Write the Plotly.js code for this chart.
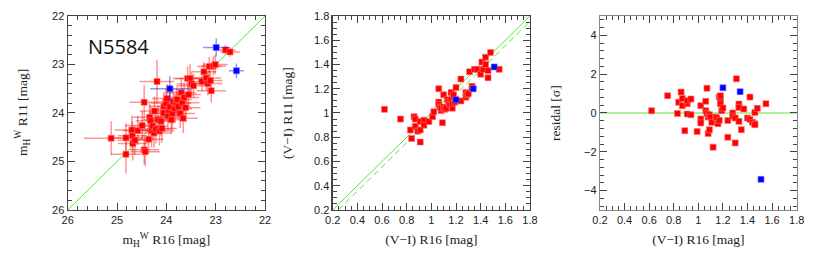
<!DOCTYPE html>
<html>
<head>
<meta charset="utf-8">
<script src="https://cdn.plot.ly/plotly-3.0.1.min.js"></script>
<style>
  html, body { margin: 0; padding: 0; background: #fff; }
  #plot { width: 817px; height: 262px; }
</style>
</head>
<body>
<div id="plot"></div>
<script>
// panel 1: m_H^W, R16 vs R11
var m16 = [25.12, 24.82, 24.82, 24.70, 24.69, 24.68, 24.64, 24.58, 24.49, 24.45, 24.45, 24.43, 24.36, 24.34, 24.32, 24.30, 24.28, 24.25, 24.24, 24.21, 24.19, 24.17, 24.14, 24.11, 24.09, 24.06, 24.05, 24.01, 23.99, 23.97, 23.95, 23.93, 23.90, 23.88, 23.86, 23.83, 23.80, 23.78, 23.76, 23.72, 23.70, 23.68, 23.66, 23.64, 23.61, 23.57, 23.55, 23.52, 23.49, 23.45, 23.28, 23.24, 23.19, 23.16, 23.13, 23.11, 23.09, 23.05, 23.01, 22.80, 22.71];
var m11 = [24.52, 24.85, 24.51, 24.35, 24.47, 24.63, 24.56, 24.36, 24.26, 23.78, 24.76, 24.80, 24.54, 24.09, 24.16, 24.36, 24.27, 24.41, 23.96, 24.33, 23.35, 24.14, 24.37, 24.17, 24.32, 24.00, 23.86, 23.80, 23.70, 24.06, 23.94, 23.87, 24.14, 24.01, 23.77, 23.91, 23.80, 23.72, 23.87, 24.01, 23.58, 23.79, 24.11, 23.68, 23.89, 23.29, 23.62, 23.29, 23.40, 23.44, 23.35, 23.15, 23.28, 23.39, 23.04, 23.33, 23.54, 23.03, 23.00, 22.70, 22.74];
var m16err = [0.55, 0.3, 0.35, 0.35, 0.3, 0.3, 0.35, 0.3, 0.35, 0.3, 0.3, 0.3, 0.3, 0.35, 0.3, 0.3, 0.3, 0.35, 0.3, 0.35, 0.35, 0.3, 0.3, 0.3, 0.3, 0.3, 0.3, 0.3, 0.3, 0.25, 0.3, 0.25, 0.3, 0.3, 0.3, 0.35, 0.3, 0.3, 0.25, 0.3, 0.3, 0.35, 0.3, 0.3, 0.3, 0.3, 0.25, 0.3, 0.3, 0.3, 0.25, 0.25, 0.3, 0.3, 0.25, 0.25, 0.3, 0.25, 0.25, 0.2, 0.2];
var m11err = [0.35, 0.4, 0.3, 0.3, 0.3, 0.35, 0.3, 0.3, 0.3, 0.35, 0.3, 0.3, 0.3, 0.3, 0.3, 0.35, 0.3, 0.3, 0.3, 0.3, 0.45, 0.3, 0.3, 0.3, 0.3, 0.3, 0.3, 0.3, 0.3, 0.3, 0.25, 0.3, 0.3, 0.3, 0.3, 0.3, 0.3, 0.3, 0.25, 0.3, 0.3, 0.3, 0.3, 0.3, 0.3, 0.25, 0.25, 0.3, 0.25, 0.25, 0.2, 0.2, 0.25, 0.25, 0.2, 0.2, 0.25, 0.2, 0.2, 0.1, 0.1];
var m16blue = [22.99, 22.58, 23.93];
var m11blue = [22.65, 23.13, 23.50];
var m16blueErr = [0.27, 0.15, 0.4];
var m11blueErr = [0.19, 0.15, 0.26];

// panel 2: (V-I) colours
var vi16 = [0.62, 0.75, 0.83, 0.84, 0.86, 0.87, 0.87, 0.89, 0.91, 0.91, 0.91, 0.94, 0.94, 0.98, 1.01, 1.02, 1.06, 1.06, 1.06, 1.07, 1.08, 1.08, 1.09, 1.10, 1.10, 1.11, 1.12, 1.13, 1.14, 1.15, 1.16, 1.16, 1.17, 1.17, 1.18, 1.19, 1.20, 1.24, 1.24, 1.28, 1.28, 1.29, 1.30, 1.31, 1.33, 1.33, 1.35, 1.37, 1.40, 1.41, 1.42, 1.44, 1.44, 1.46, 1.46, 1.48, 1.55];
var vi11 = [1.03, 0.95, 0.86, 0.79, 0.97, 0.95, 0.89, 0.85, 0.93, 0.86, 0.76, 0.94, 0.90, 0.93, 0.97, 1.01, 1.20, 1.09, 1.07, 1.05, 1.02, 1.04, 0.92, 1.15, 1.05, 1.03, 1.04, 1.11, 1.09, 1.07, 1.17, 1.11, 1.04, 1.08, 1.15, 1.09, 1.21, 1.10, 1.28, 1.17, 1.13, 1.15, 1.16, 1.34, 1.22, 1.20, 1.36, 1.36, 1.32, 1.42, 1.36, 1.46, 1.40, 1.35, 1.29, 1.50, 1.36];
var vi16blue = [1.20, 1.34, 1.51];
var vi11blue = [1.11, 1.20, 1.38];

// panel 3: residuals
var resX = [0.62, 0.75, 0.83, 0.84, 0.86, 0.87, 0.87, 0.89, 0.91, 0.91, 0.91, 0.94, 0.94, 0.99, 1.02, 1.02, 1.02, 1.06, 1.06, 1.07, 1.07, 1.08, 1.08, 1.09, 1.09, 1.10, 1.11, 1.12, 1.14, 1.15, 1.16, 1.17, 1.17, 1.18, 1.18, 1.18, 1.19, 1.20, 1.24, 1.24, 1.28, 1.28, 1.30, 1.30, 1.31, 1.33, 1.33, 1.33, 1.35, 1.37, 1.40, 1.42, 1.42, 1.44, 1.46, 1.46, 1.46, 1.48, 1.55];
var resY = [0.12, 0.89, -0.03, 0.55, 1.08, 0.75, 0.38, -0.91, 0.48, 0.63, -0.05, 0.72, -0.09, -0.96, 0.38, -0.31, -0.51, 0.12, 0.60, 1.28, -0.03, -0.21, -1.06, -0.86, -0.09, -0.21, -0.48, -1.76, -0.21, -0.26, -0.55, -0.38, 0.82, 0.68, 0.89, 0.48, 0.12, 0.26, -1.25, -0.39, 0.0, -0.17, -1.54, -0.26, 1.76, 0.46, 0.29, -0.43, -0.86, 0.21, -0.26, 0.82, -0.34, -0.48, -0.56, -0.60, 0.03, 0.24, 0.48];
var resXblue = [1.20, 1.34, 1.51];
var resYblue = [1.30, 1.10, -3.42];

// reference lines
var diagMag = [26, 22];
var diagCol = [0.2, 1.8];
var offsetColX = [0.245, 1.8];
var offsetColY = [0.2, 1.755];
var zeroX = [0.2, 1.8];
var zeroY = [0, 0];

var RED = '#ff0000', BLUE = '#0000ff', GREEN = '#5ce63c';
var redMarker = {symbol: 'square', size: 6, color: RED, line: {width: 0.6, color: '#ff7070'}};
var blueMarker = {symbol: 'square', size: 6, color: BLUE, line: {width: 0.6, color: '#7070ff'}};

function errs(arr, col) {
    return {type: 'data', array: arr, visible: true, color: col, thickness: 1.5, width: 0};
}

var data = [
    {x: diagMag, y: diagMag, mode: 'lines', line: {color: GREEN, width: 1}, xaxis: 'x', yaxis: 'y'},
    {x: m16, y: m11, mode: 'markers', marker: redMarker,
     error_x: errs(m16err, 'rgba(255,0,0,0.42)'), error_y: errs(m11err, 'rgba(255,0,0,0.42)'),
     xaxis: 'x', yaxis: 'y'},
    {x: m16blue, y: m11blue, mode: 'markers', marker: blueMarker,
     error_x: errs(m16blueErr, 'rgba(0,0,255,0.42)'), error_y: errs(m11blueErr, 'rgba(0,0,255,0.42)'),
     xaxis: 'x', yaxis: 'y'},

    {x: diagCol, y: diagCol, mode: 'lines', line: {color: GREEN, width: 1}, xaxis: 'x2', yaxis: 'y2'},
    {x: offsetColX, y: offsetColY, mode: 'lines', line: {color: GREEN, width: 1, dash: '6px,4px'}, xaxis: 'x2', yaxis: 'y2'},
    {x: vi16, y: vi11, mode: 'markers', marker: redMarker, xaxis: 'x2', yaxis: 'y2'},
    {x: vi16blue, y: vi11blue, mode: 'markers', marker: blueMarker, xaxis: 'x2', yaxis: 'y2'},

    {x: zeroX, y: zeroY, mode: 'lines', line: {color: GREEN, width: 1}, xaxis: 'x3', yaxis: 'y3'},
    {x: resX, y: resY, mode: 'markers', marker: redMarker, xaxis: 'x3', yaxis: 'y3'},
    {x: resXblue, y: resYblue, mode: 'markers', marker: blueMarker, xaxis: 'x3', yaxis: 'y3'}
];

var tickFont = {family: 'Liberation Sans, Arial, sans-serif', size: 11, color: '#222'};
var titleFont = {family: 'Liberation Serif, Times New Roman, serif', size: 13.5, color: '#222'};

function axis(range, dtick, minor, dom, anchor, title, standoff) {
    var a = {
        range: range, dtick: dtick, domain: dom, anchor: anchor,
        showgrid: false, zeroline: false,
        showline: true, mirror: 'allticks', linecolor: '#444', linewidth: 1.2,
        ticks: 'inside', ticklen: 7, tickcolor: '#444', tickwidth: 1,
        minor: {dtick: minor, ticks: 'inside', ticklen: 4, tickcolor: '#444', showgrid: false},
        tickfont: tickFont
    };
    if (title) a.title = {text: title, font: titleFont, standoff: standoff};
    return a;
}

var yDom = [0.1985, 0.9389];
var yMid = 1 - 113 / 262;
function yTitle(text, px) {
    return {text: text, xref: 'paper', yref: 'paper', x: px / 817, y: yMid,
            xanchor: 'center', yanchor: 'middle', textangle: -90,
            showarrow: false, font: titleFont};
}

var layout = {
    width: 817, height: 262,
    margin: {l: 0, r: 0, t: 0, b: 0},
    paper_bgcolor: '#fff', plot_bgcolor: '#fff',
    showlegend: false,
    xaxis: axis([26, 22], 1, 0.2, [0.0829, 0.3244], 'y', 'm<sub>H</sub><sup>W</sup> R16 [mag]', 9),
    yaxis: axis([26, 22], 1, 0.2, yDom, 'x'),
    xaxis2: axis([0.2, 1.8], 0.2, 0.05, [0.4072, 0.6487], 'y2', '(V\u2212I) R16 [mag]', 9),
    yaxis2: axis([0.2, 1.8], 0.2, 0.05, yDom, 'x2'),
    xaxis3: axis([0.2, 1.8], 0.2, 0.05, [0.7344, 0.9751], 'y3', '(V\u2212I) R16 [mag]', 9),
    yaxis3: axis([-5, 5], 2, 0.4, yDom, 'x3'),
    annotations: [
        {text: 'N5584', xref: 'x', yref: 'y', x: 24.98, y: 22.62,
         showarrow: false, font: {family: 'Open Sans, sans-serif', size: 20, color: '#111'}},
        yTitle('m<sub>H</sub><sup>W</sup> R11 [mag]', 22),
        yTitle('(V\u2212I) R11 [mag]', 287),
        yTitle('residal [\u03c3]', 555)
    ]
};
layout.yaxis3.linecolor = '#888';
layout.xaxis3.linecolor = '#888';

Plotly.newPlot('plot', data, layout, {staticPlot: true});
</script>
</body>
</html>
